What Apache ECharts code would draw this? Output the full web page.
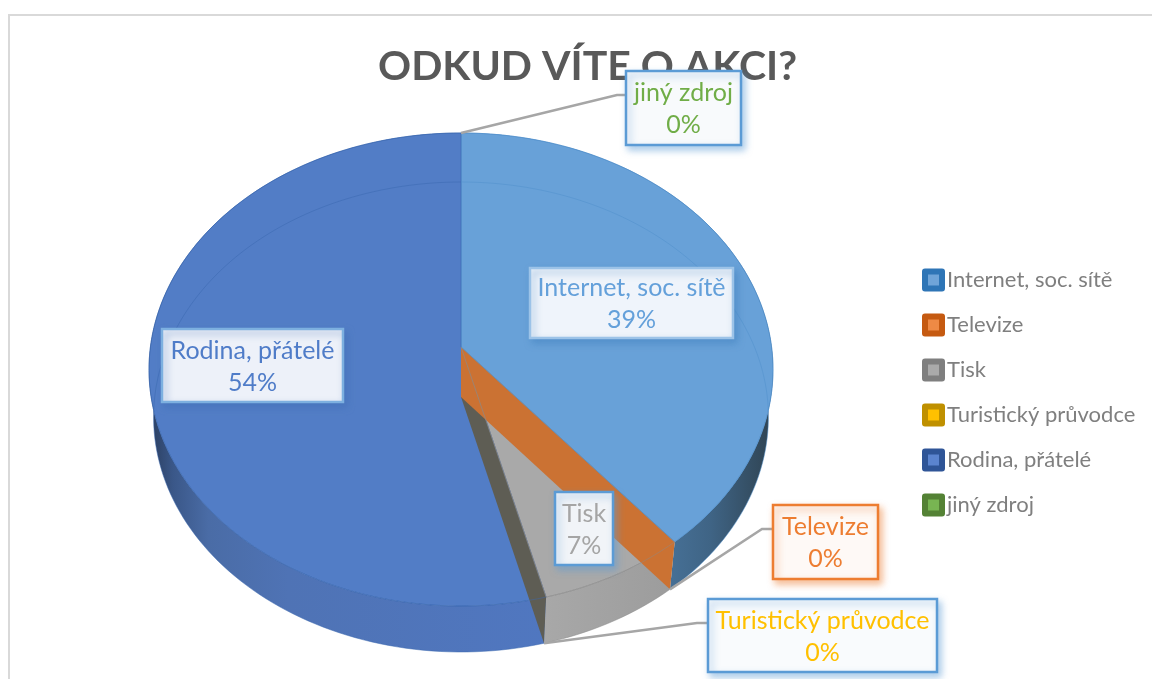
<!DOCTYPE html>
<html>
<head>
<meta charset="utf-8">
<script src="https://cdn.jsdelivr.net/npm/echarts@6/dist/echarts.min.js"></script>
<style>
    html, body { margin: 0; padding: 0; background: #fff; }
    #main { width: 1152px; height: 679px; }
</style>
</head>
<body>
<div id="main"></div>

<script type="text/javascript">

    var categories = ["Internet, soc. sítě", "Televize", "Tisk", "Turistický průvodce", "Rodina, přátelé", "jiný zdroj"];
    var shares = [39, 0, 7, 0, 54, 0];

    // barvy
    var legendColors = ['#2e75b6', '#c55a11', '#7f7f7f', '#bf9000', '#2f5597', '#548235'];
    var legendInner = ['#6fa4d8', '#ee8a45', '#aaaaaa', '#ffc000', '#5b84cf', '#78b552'];
    var topColors = ['#68a1d8', '#ed7d31', '#a9a9a9', '#ffc000', '#527dc6', '#70ad47'];
    var rimColors = ['#4f8fcc', '#c96f2f', '#8a8a8a', '#bf9000', '#3a68b0', '#548235'];
    var faceColors = [null, '#cb7233', null, '#5e5d54', null, null];
    var labelColors = ['#64a0da', '#ed7d31', '#a5a5a5', '#ffc000', '#4f7cc8', '#70ad47'];
    var borderColors = ['#9cc3e8', '#ed7d31', '#5b9bd5', '#5b9bd5', '#7db0e0', '#5b9bd5'];
    var shadowColors = ['#3f7fbd', '#ed7d31', '#5b9bd5', '#5b9bd5', '#3f6fb5', '#5b9bd5'];
    var boxFills = ['#eff4fb', '#fef9f6', '#f1f4f8', '#f9fbfd', '#edf1f9', '#f8fafc'];
    var wallStops = [
        [[0, '#5f98d0'], [0.45, '#5284b2'], [0.8, '#3f6485'], [1, '#2f4352']],
        null,
        [[0, '#a8a8a8'], [1, '#9c9c9c']],
        null,
        [[0, '#2a3d5e'], [0.06, '#3a5788'], [0.15, '#4a6ca6'], [0.35, '#4f73b5'], [1, '#5077c0']],
        null
    ];

    // popisky: [x, y, sirka, vyska]
    var boxes = [
        [530, 268, 203, 70],
        [773, 505, 105, 74],
        [555, 492, 58, 73],
        [708, 599, 229, 73],
        [162, 329, 181, 73],
        [626, 71, 115, 74]
    ];
    // zalomeni vodicich car
    var leaders = [
        null,
        { level: 1, bend: [762, 529], end: [773, 529] },
        null,
        { level: 1, bend: [697, 623], end: [708, 623] },
        null,
        { level: 0, bend: [617, 95], end: [626, 95] }
    ];

    // perspektiva kolacku, horni a spodni rovina
    var apexX = 461;
    var planes = [
        { y: 347, persp: -0.0951, sx: 310.6, sy: 234.4 },
        { y: 397, persp: -0.0851, sx: 306.3, sy: 233.3 }
    ];

    function project(frac, level) {
        var p = planes[level];
        var t = frac * 2 * Math.PI;
        var u = Math.sin(t), v = -Math.cos(t);
        var den = 1 + p.persp * v;
        return [apexX + p.sx * u / den, p.y + p.sy * v / den];
    }

    function arc(from, to, level) {
        var pts = [];
        var n = Math.max(1, Math.ceil((to - from) * 240));
        for (var i = 0; i <= n; i++) {
            pts.push(project(from + (to - from) * i / n, level));
        }
        return pts;
    }

    var total = shares.reduce(function (a, b) { return a + b; }, 0);

    function startOf(idx) {
        var sum = 0;
        for (var i = 0; i < idx; i++) sum += shares[i];
        return sum / total;
    }

    function renderSlice(params, api) {
        var i = params.seriesIndex;
        var value = api.value(0);
        var from = startOf(i);
        var to = from + value / total;
        var apex = [apexX, planes[0].y];
        var children = [];

        if (value > 0) {
            // bocni stena
            var wallPts = arc(from, to, 0).concat(arc(from, to, 1).reverse());
            var xs = wallPts.map(function (p) { return p[0]; });
            var x0 = Math.min.apply(null, xs), x1 = Math.max.apply(null, xs);
            children.push({
                type: 'polygon', z2: 1,
                shape: { points: wallPts },
                style: {
                    fill: {
                        type: 'linear', global: true, x: x0, y: 0, x2: x1, y2: 0,
                        colorStops: wallStops[i].map(function (s) { return { offset: s[0], color: s[1] }; })
                    }
                }
            });
            // horni plocha
            children.push({
                type: 'polygon', z2: 2,
                shape: { points: [apex].concat(arc(from, to, 0)) },
                style: { fill: topColors[i], stroke: rimColors[i], lineWidth: 1, strokeOpacity: 0.6 }
            });
            // spodni okraj prosvita skrz
            children.push({
                type: 'polyline', z2: 3,
                shape: { points: arc(from, to, 1) },
                style: { fill: null, stroke: rimColors[i], lineWidth: 1, opacity: 0.5 }
            });
            // horni okraj pres rez
            children.push({
                type: 'polyline', z2: 7,
                shape: { points: arc(from, to, 0) },
                style: { fill: null, stroke: rimColors[i], lineWidth: 1, opacity: 0.45 }
            });
            if (faceColors[i + 1]) {
                children.push({
                    type: 'polyline', z2: 7,
                    shape: { points: [apex, project(to, 0)] },
                    style: { fill: null, stroke: rimColors[i], lineWidth: 1, opacity: 0.7 }
                });
            }
        } else if (faceColors[i]) {
            // nulova vysec je videt jen jako rez
            children.push({
                type: 'polygon', z2: 6 - i,
                shape: { points: [apex, project(from, 0), project(from, 1), [apexX, planes[1].y]] },
                style: { fill: faceColors[i] }
            });
        }

        // vodici cara
        var lead = leaders[i];
        if (lead) {
            children.push({
                type: 'polyline', z2: 10,
                shape: { points: [project(from, lead.level), lead.bend, lead.end] },
                style: { fill: null, stroke: '#a6a6a6', lineWidth: 2.5 }
            });
        }

        // popisek
        var b = boxes[i];
        children.push({
            type: 'rect', z2: 11,
            shape: { x: b[0], y: b[1], width: b[2], height: b[3] },
            style: {
                fill: boxFills[i], stroke: borderColors[i], lineWidth: 2.5,
                shadowBlur: 7, shadowOffsetX: 3, shadowOffsetY: 4, shadowColor: shadowColors[i] + '80'
            }
        });
        children.push({
            type: 'text', z2: 12,
            style: {
                x: b[0] + b[2] / 2, y: b[1] + b[3] / 2 + 1,
                text: categories[i] + '\n' + Math.round(value / total * 100) + '%',
                fill: labelColors[i], align: 'center', verticalAlign: 'middle',
                fontFamily: 'Lato', fontSize: 25, lineHeight: 32
            }
        });

        return { type: 'group', children: children };
    }

    var ec1 = echarts.init(document.getElementById('main'));

    var option = {
        animation: false,
        backgroundColor: '#ffffff',
        title: {
            text: 'ODKUD VÍTE O AKCI?',
            left: 378,
            top: 46,
            padding: 0,
            z: 1,
            textStyle: { fontFamily: 'Lato', fontWeight: 'bold', fontSize: 41, color: '#595959' }
        },
        legend: {
            orient: 'vertical',
            left: 922,
            top: 268,
            padding: 0,
            itemWidth: 17,
            itemHeight: 17,
            itemGap: 21,
            selectedMode: false,
            textStyle: { fontFamily: 'Lato', fontSize: 22, lineHeight: 24, color: '#7f7f7f' },
            data: categories.map(function (name, i) {
                return {
                    name: name,
                    icon: 'rect',
                    itemStyle: { color: legendInner[i], borderColor: legendColors[i], borderWidth: 6, borderJoin: 'round' }
                };
            })
        },
        graphic: [
            { type: 'rect', shape: { x: 8, y: 14, width: 1144, height: 2 }, style: { fill: '#d9d9d9' }, silent: true },
            { type: 'rect', shape: { x: 8, y: 14, width: 2, height: 665 }, style: { fill: '#d9d9d9' }, silent: true }
        ],
        series: categories.map(function (name, i) {
            return {
                name: name,
                type: 'custom',
                coordinateSystem: 'none',
                silent: true,
                renderItem: renderSlice,
                data: [[shares[i]]]
            };
        })
    };

    ec1.setOption(option);

</script>
</body>
</html>
